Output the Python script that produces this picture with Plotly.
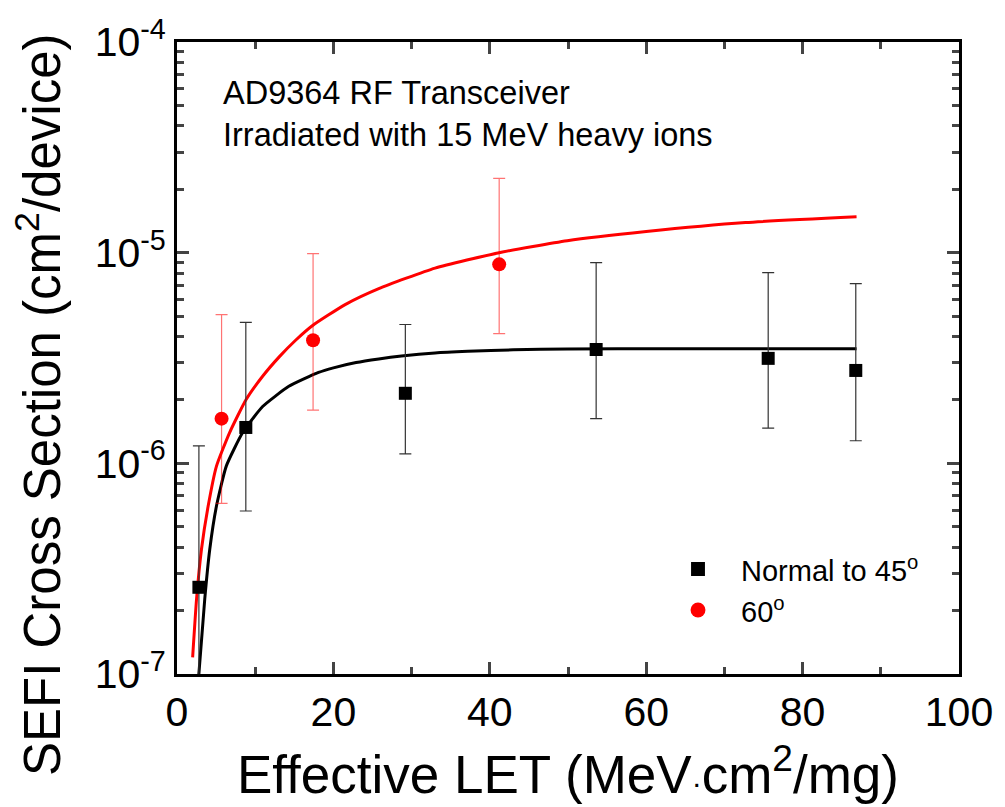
import plotly.graph_objects as go

# Data: Normal to 45 deg (black squares)
black_x = [2.8, 8.8, 29.2, 53.6, 75.6, 86.8]
black_y = [2.58e-7, 1.48e-6, 2.15e-6, 3.47e-6, 3.15e-6, 2.76e-6]
black_hi = [1.21e-6, 4.67e-6, 4.56e-6, 8.97e-6, 8.04e-6, 7.13e-6]
black_lo = [5.0e-8, 5.94e-7, 1.11e-6, 1.63e-6, 1.47e-6, 1.28e-6]

# Data: 60 deg (red circles)
red_x = [5.7, 17.4, 41.2]
red_y = [1.63e-6, 3.84e-6, 8.8e-6]
red_hi = [5.08e-6, 9.89e-6, 2.25e-5]
red_lo = [6.46e-7, 1.79e-6, 4.13e-6]

# Fit curves
black_fit_x = [2.7, 3.55, 4.19, 5.04, 6.3, 8.4, 10.95, 14.3, 18.1, 20.0, 22.9, 25.8, 28.7, 33.0, 37.2, 43.0,
               49.9, 62.6, 75.0, 86.9]
black_fit_y = [9.0e-8, 2.27e-7, 3.91e-7, 6.25e-7, 9.7e-7, 1.40e-6, 1.86e-6, 2.32e-6, 2.70e-6, 2.84e-6,
               3.01e-6, 3.13e-6, 3.23e-6, 3.34e-6, 3.40e-6, 3.46e-6, 3.49e-6, 3.50e-6, 3.50e-6, 3.50e-6]
red_fit_x = [2.0, 2.5, 3.13, 3.98, 5.04, 6.73, 8.84, 10.95, 13.1, 15.2, 17.3, 21.5, 25.8, 33.0, 41.2, 49.9,
             60.0, 72.7, 86.9]
red_fit_y = [1.2e-7, 2.27e-7, 3.91e-7, 6.25e-7, 9.68e-7, 1.40e-6, 2.01e-6, 2.59e-6, 3.21e-6, 3.85e-6,
             4.50e-6, 5.67e-6, 6.75e-6, 8.45e-6, 1.0e-5, 1.14e-5, 1.26e-5, 1.39e-5, 1.48e-5]

x_ticks = [0, 20, 40, 60, 80, 100]
y_ticks = [1e-7, 1e-6, 1e-5, 1e-4]
y_ticktext = ["10<sup>-7</sup>", "10<sup>-6</sup>", "10<sup>-5</sup>", "10<sup>-4</sup>"]
y_minor = [m * 10.0 ** e for e in (-7, -6, -5) for m in range(2, 10)]

legend_labels = ["Normal to 45<sup>o</sup>", "60<sup>o</sup>"]

FONT = "Liberation Sans, Arial, sans-serif"

# plot area in pixels (for paper-coordinate placement of texts)
L, R, T, B = 177, 965, 42, 674
PW, PH = R - L, B - T


def px(x):
    return (x - L) / PW


def py(y):
    return (B - y) / PH


fig = go.Figure()

fig.add_trace(go.Scatter(x=black_fit_x, y=black_fit_y, mode="lines",
                         line=dict(color="black", width=3, shape="spline", smoothing=0.5),
                         showlegend=False, hoverinfo="skip"))
fig.add_trace(go.Scatter(x=red_fit_x, y=red_fit_y, mode="lines",
                         line=dict(color="#ff0000", width=3, shape="spline", smoothing=0.5),
                         showlegend=False, hoverinfo="skip"))

fig.add_trace(go.Scatter(
    x=black_x, y=black_y, mode="markers", name=legend_labels[0], showlegend=False,
    marker=dict(symbol="square", size=13, color="black"),
    error_y=dict(type="data", symmetric=False,
                 array=[h - v for h, v in zip(black_hi, black_y)],
                 arrayminus=[v - l for v, l in zip(black_y, black_lo)],
                 color="#333333", thickness=1.2, width=6),
))
fig.add_trace(go.Scatter(
    x=red_x, y=red_y, mode="markers", name=legend_labels[1], showlegend=False,
    marker=dict(symbol="circle", size=14, color="#ff0000"),
    error_y=dict(type="data", symmetric=False,
                 array=[h - v for h, v in zip(red_hi, red_y)],
                 arrayminus=[v - l for v, l in zip(red_y, red_lo)],
                 color="rgba(255,0,0,0.55)", thickness=1.2, width=6),
))

# legend drawn by hand (symbol + label) to match placement
leg_x, leg_rows = 702, [569, 610]
shapes = [
    dict(type="rect", xref="paper", yref="paper",
         x0=px(leg_x - 7), x1=px(leg_x + 7), y0=py(leg_rows[0] + 7), y1=py(leg_rows[0] - 7),
         fillcolor="black", line=dict(width=0)),
    dict(type="circle", xref="paper", yref="paper",
         x0=px(leg_x - 7.5), x1=px(leg_x + 7.5), y0=py(leg_rows[1] + 7.5), y1=py(leg_rows[1] - 7.5),
         fillcolor="#ff0000", line=dict(width=0)),
]

annotations = [
    dict(text="AD9364 RF Transceiver<br>Irradiated with 15 MeV heavy ions",
         xref="paper", yref="paper", x=px(221), y=py(73),
         xanchor="left", yanchor="top", showarrow=False, align="left",
         font=dict(size=32.5, family=FONT)),
    dict(text="Effective LET (MeV<span style='font-size:30px'>·</span>cm<sup>2</sup>/mg)",
         xref="paper", yref="paper", x=0.5, y=py(770),
         xanchor="center", yanchor="middle", showarrow=False,
         font=dict(size=53, family=FONT)),
    dict(text="SEFI Cross Section (cm<sup>2</sup>/device)",
         xref="paper", yref="paper", x=px(38), y=py(405),
         xanchor="center", yanchor="middle", showarrow=False, textangle=-90,
         font=dict(size=51, family=FONT)),
]
for lbl, row in zip(legend_labels, leg_rows):
    annotations.append(dict(text=lbl, xref="paper", yref="paper", x=px(743), y=py(row),
                            xanchor="left", yanchor="middle", showarrow=False,
                            font=dict(size=29, family=FONT)))

fig.update_layout(
    width=1005, height=807,
    margin=dict(l=L, r=1005 - R, t=T, b=807 - B),
    paper_bgcolor="white", plot_bgcolor="white",
    font=dict(family=FONT, color="black"),
    showlegend=False,
    shapes=shapes,
    annotations=annotations,
)

fig.update_xaxes(
    range=[0, 100], tickvals=x_ticks, ticks="inside", ticklen=12, tickwidth=2.5,
    tickfont=dict(size=41, family=FONT), showline=True, linewidth=3, linecolor="black",
    mirror="ticks", showgrid=False, zeroline=False,
    minor=dict(tickvals=[10, 30, 50, 70, 90], ticks="inside", ticklen=7, tickwidth=2.5, showgrid=False),
)
fig.update_yaxes(
    type="log", range=[-7, -4], tickvals=y_ticks, ticktext=y_ticktext, ticks="inside",
    ticklen=12, tickwidth=2.5, tickfont=dict(size=41, family=FONT), showline=True, linewidth=3,
    linecolor="black", mirror="ticks", showgrid=False, zeroline=False,
    minor=dict(tickvals=y_minor, ticks="inside", ticklen=7, tickwidth=2.5, showgrid=False),
)

fig.write_html("out.html")
